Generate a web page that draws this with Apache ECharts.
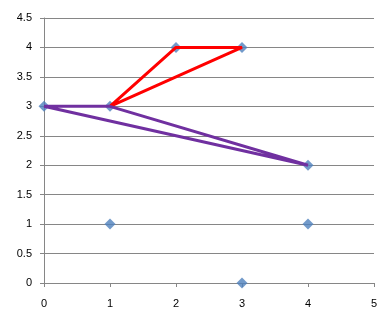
<!DOCTYPE html>
<html><head><meta charset="utf-8">
<script src="https://cdn.jsdelivr.net/npm/echarts@6/dist/echarts.min.js"></script>
<style>html,body{margin:0;padding:0;background:#fff}#c{width:392px;height:321px}</style>
</head><body><div id="c"></div>
<script>
const pointsX = [0, 1, 2, 3, 4, 1, 4, 3];
const pointsY = [3, 3, 4, 4, 2, 1, 1, 0];
const redX = [1, 2, 3, 1];
const redY = [3, 4, 4, 3];
const purpleX = [0, 1, 4, 0];
const purpleY = [3, 3, 2, 3];

const zip = (a, b) => a.map((v, i) => [v, b[i]]);
const chart = echarts.init(document.getElementById('c'), null, {renderer: 'canvas'});
const axisLabel = {color: '#000', fontFamily: 'Liberation Sans, Arial, sans-serif', fontSize: 11};
chart.setOption({
  animation: false,
  grid: {left: 44, right: 18, top: 18, bottom: 38},
  xAxis: {
    type: 'value', min: 0, max: 5, interval: 1,
    axisLine: {show: true, lineStyle: {color: '#868686'}},
    axisTick: {show: true, length: 4, lineStyle: {color: '#868686'}},
    splitLine: {show: false},
    axisLabel: Object.assign({margin: 15}, axisLabel)
  },
  yAxis: {
    type: 'value', min: 0, max: 4.5, interval: 0.5,
    axisLine: {show: true, lineStyle: {color: '#868686'}},
    axisTick: {show: true, length: 4, lineStyle: {color: '#868686'}},
    splitLine: {show: true, lineStyle: {color: '#868686'}},
    axisLabel: Object.assign({margin: 12}, axisLabel)
  },
  series: [
    {type: 'scatter', data: zip(pointsX, pointsY), symbol: 'diamond', symbolSize: 11,
     itemStyle: {color: '#4F81BD'}, z: 1},
    {type: 'line', data: zip(redX, redY), showSymbol: false, symbol: 'none',
     lineStyle: {color: '#FF0000', width: 3}, z: 2},
    {type: 'line', data: zip(purpleX, purpleY), showSymbol: false, symbol: 'none',
     lineStyle: {color: '#7030A0', width: 3}, z: 2}
  ]
});
</script></body></html>
